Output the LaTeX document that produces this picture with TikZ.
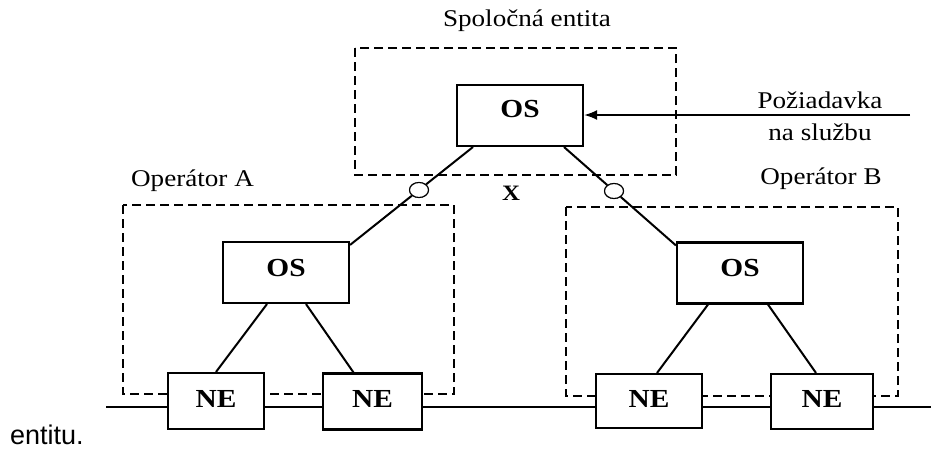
\documentclass[tikz,border=0pt]{standalone}
\usepackage{fontspec}
\setmainfont{Liberation Serif}[FakeStretch=1.13]
\newfontfamily\captionsans{Liberation Sans}
\usetikzlibrary{arrows.meta,shapes.geometric}
\begin{document}
\begin{tikzpicture}[x=1pt,y=-1pt,
  lbl/.style={font=\fontsize{24}{28}\selectfont, inner sep=0},
  unit/.style={draw, line width=2.1pt, fill=white, inner sep=0,
    font=\fontsize{26}{30}\bfseries\selectfont},
  osbox/.style={unit, minimum width=126pt, minimum height=61pt},
  nebox/.style={unit, minimum height=56pt, text depth=5pt},
  zone/.style={line width=2pt, dash pattern=on 9pt off 5pt},
  wire/.style={line width=2pt},
  port/.style={ellipse, draw, line width=1.1pt, fill=white, minimum width=19pt, minimum height=15pt, inner sep=0}
]
\useasboundingbox (0,0) rectangle (931,450);

% dashed domains
\draw[zone] (355,48) rectangle (676,175);
\draw[zone] (123,205) rectangle (454,394);
\draw[zone] (566,207) rectangle (898,396);

% free ends
\coordinate (busL) at (106,407);
\coordinate (busR) at (931,407);
\coordinate (req) at (910,115);

% boxes
\node[osbox, text depth=14pt] (tos) at (520,115.5) {OS};
\node[osbox, text depth=10pt] (los) at (286,272.5) {OS};
\node[osbox, text depth=10pt] (ros) at (740,273) {OS};
\node[nebox, minimum width=96pt] (ne1) at (216,401) {NE};
\node[nebox, minimum width=99pt] (ne2) at (372.5,401.5) {NE};
\node[nebox, minimum width=106pt, minimum height=54pt] (ne3) at (649,401) {NE};
\node[nebox, minimum width=102pt, minimum height=55pt] (ne4) at (822,401.5) {NE};

% bus
\draw[wire] (busL) -- (ne1.west |- busL);
\draw[wire] (ne1.east |- busL) -- (ne2.west |- busL);
\draw[wire] (ne2.east |- busL) -- (ne3.west |- busL);
\draw[wire] (ne3.east |- busL) -- (ne4.west |- busL);
\draw[wire] (ne4.east |- busL) -- (busR);

% links inside domains
\draw[wire] ([xshift=-19pt]los.south) -- ([xshift=0pt]ne1.north);
\draw[wire] ([xshift=20pt]los.south) -- ([xshift=-19pt]ne2.north);
\draw[wire] ([xshift=-32pt]ros.south) -- ([xshift=8pt]ne3.north);
\draw[wire] ([xshift=28pt]ros.south) -- ([xshift=-6pt]ne4.north);

% links to common entity with X interface ports
\node[port] (p1) at (419,190) {};
\node[port] (p2) at (614,191) {};
\draw[wire] ([xshift=17pt]tos.south west) -- (p1) -- ([yshift=-4pt]los.north east);
\draw[wire] ([xshift=-20pt]tos.south east) -- (p2) -- ([yshift=-4pt]ros.north west);
\node[port] at (p1) {};
\node[port] at (p2) {};

% request arrow
\draw[wire, -{Latex[length=13pt,width=10pt]}] (req) -- (tos.east |- req);

% labels
\node[lbl, anchor=base] (t1) at (527,26) {Spoločná entita};
\node[lbl, anchor=base] (t2) at (820,108) {Požiadavka};
\node[lbl, anchor=base] (t3) at (820,140) {na službu};
\node[lbl, anchor=base] (t4) at (192.5,186) {Operátor A};
\node[lbl, anchor=base] (t5) at (821,184) {Operátor B};
\node[lbl, anchor=base, font=\fontsize{22}{24}\bfseries\selectfont] (t6) at (511,200) {X};
\node[anchor=base west, inner sep=0, font=\captionsans\fontsize{27}{30}\selectfont] (t7) at (10,444) {entitu.};
\end{tikzpicture}
\end{document}
